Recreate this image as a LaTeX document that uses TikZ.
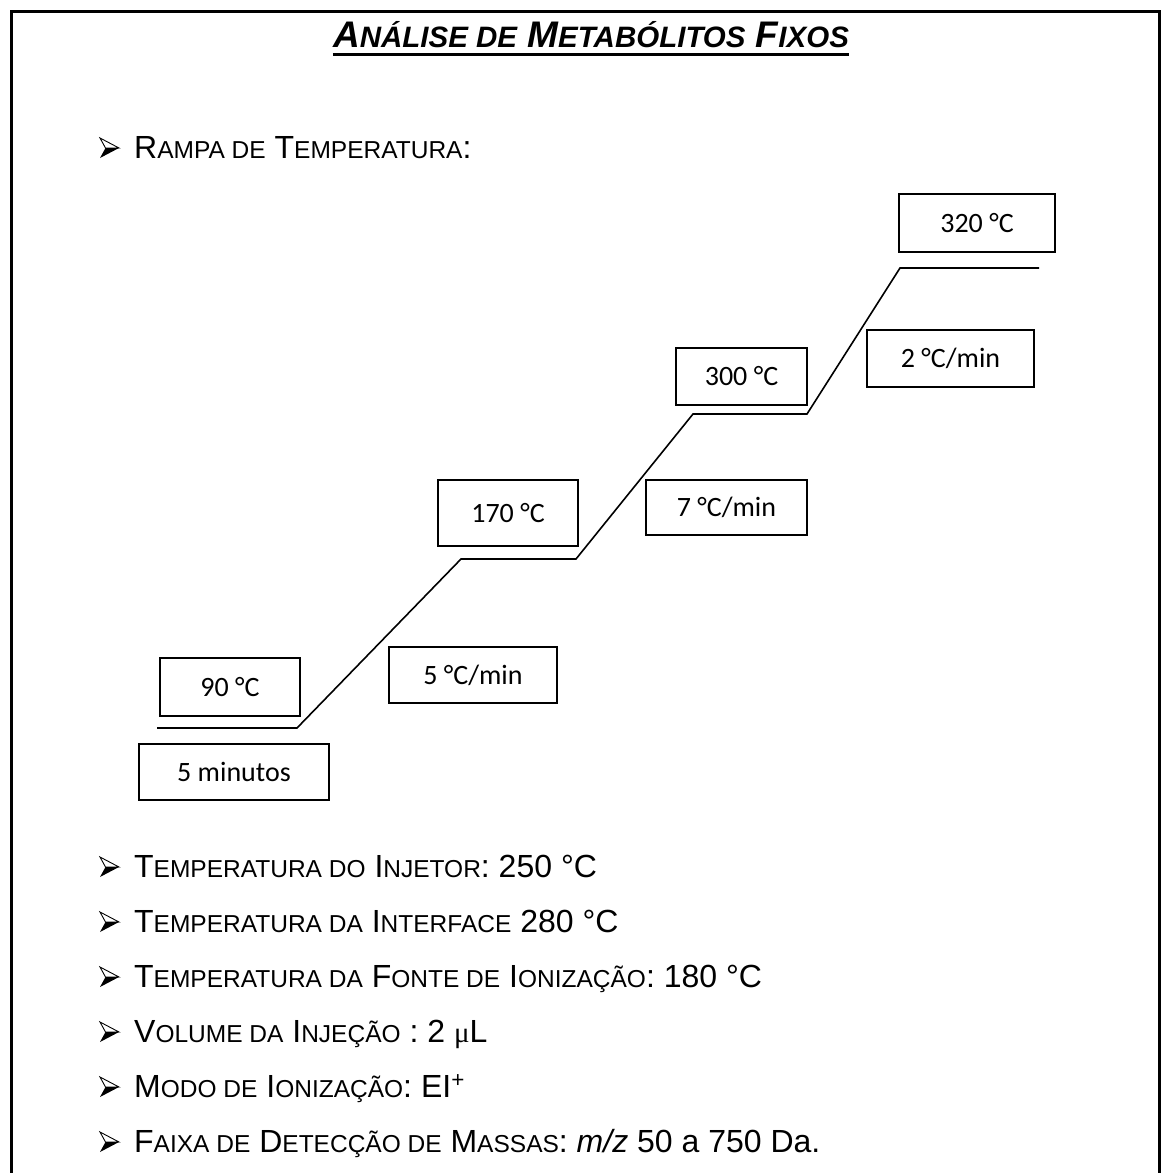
\documentclass[tikz,border=0pt]{standalone}
\usepackage{fontspec}
\setmainfont{Liberation Sans}
\newfontfamily\boxfont{Carlito}
\newfontfamily\serfont{Liberation Serif}
\newcommand\bodysz{\fontsize{32}{32}\selectfont}
\newcommand\smc[1]{{\fontsize{24.5}{24.5}\selectfont #1}}
\newcommand\tsmc[1]{{\fontsize{29.5}{29.5}\selectfont #1}}
\tikzset{
  arrowbullet/.pic={
    \filldraw[fill=white, draw=black, line width=0.9pt, line join=miter] (0,-20) -- (19,-10) -- (5.5,-10) -- cycle;
    \fill[black] (5.5,-10) -- (19,-10) -- (0,0) -- cycle;
  }
}
\begin{document}
\begin{tikzpicture}[x=1pt,y=-1pt,
  frameline/.style={line width=3pt, line join=miter},
  tempbox/.style={draw, line width=1.5pt, inner sep=0pt, font=\boxfont\fontsize{28}{28}\selectfont},
  ramp/.style={line width=1.6pt, line join=miter},
  item/.style={anchor=base west, inner sep=0pt, font=\bodysz},
]
\useasboundingbox (0,0) rectangle (1161,1173);
\fill[white] (0,0) rectangle (1161,1173);
% frame
\draw[frameline] (11,1173) -- (11,11) -- (1161,11);
\draw[line width=3pt] (1159.5,11) -- (1159.5,1173);

% title
\node[anchor=base, inner sep=0pt, font=\bfseries\itshape\fontsize{37}{37}\selectfont] (title) at (591,47)
  {A\tsmc{NÁLISE DE} M\tsmc{ETABÓLITOS} F\tsmc{IXOS}};
\draw[line width=3pt] ([yshift=-7pt]title.base west) -- ([yshift=-7pt]title.base east);

% ramp heading
\pic (b1) at (100,158) {arrowbullet};
\node[item] (rampa) at (134,158) {R\smc{AMPA DE} T\smc{EMPERATURA}:};

% temperature profile
\coordinate (p0) at (157,728);
\coordinate (p1) at (297,728);
\coordinate (p2) at (461,559);
\coordinate (p3) at (576,559);
\coordinate (p4) at (693,414);
\coordinate (p5) at (807,414);
\coordinate (p6) at (900,268);
\coordinate (p7) at (1039,268);
\draw[ramp] (p0) -- (p1) -- (p2) -- (p3) -- (p4) -- (p5) -- (p6) -- (p7);

\node[tempbox, minimum width=140pt, minimum height=58pt] (t90) at (230,687) {90 °C};
\node[tempbox, minimum width=190pt, minimum height=56pt] (tmin) at (234,772) {5 minutos};
\node[tempbox, minimum width=168pt, minimum height=56pt] (r5) at (473,675) {5 °C/min};
\node[tempbox, minimum width=140pt, minimum height=66pt] (t170) at (508,513) {170 °C};
\node[tempbox, minimum width=161pt, minimum height=55pt] (r7) at (726.5,507.5) {7 °C/min};
\node[tempbox, minimum width=131pt, minimum height=57pt] (t300) at (741.5,376.5) {300 °C};
\node[tempbox, minimum width=167pt, minimum height=57pt] (r2) at (950.5,358.5) {2 °C/min};
\node[tempbox, minimum width=156pt, minimum height=58pt] (t320) at (977,223) {320 °C};

% parameter list
\pic (b2) at (100,877) {arrowbullet};
\node[item] (inj) at (134,877) {T\smc{EMPERATURA DO} I\smc{NJETOR}: 250 °C};
\pic (b3) at (100,932) {arrowbullet};
\node[item] (intf) at (134,932) {T\smc{EMPERATURA DA} I\smc{NTERFACE} 280 °C};
\pic (b4) at (100,987) {arrowbullet};
\node[item] (fonte) at (134,987) {T\smc{EMPERATURA DA} F\smc{ONTE DE} I\smc{ONIZAÇÃO}: 180 °C};
\pic (b5) at (100,1042) {arrowbullet};
\node[item] (vol) at (134,1042) {V\smc{OLUME DA} I\smc{NJEÇÃO} : 2 {\serfont\fontsize{29}{29}\selectfont μ}L};
\pic (b6) at (100,1097) {arrowbullet};
\node[item] (modo) at (134,1097) {M\smc{ODO DE} I\smc{ONIZAÇÃO}: EI\textsuperscript{+}};
\pic (b7) at (100,1152) {arrowbullet};
\node[item] (faixa) at (134,1152) {F\smc{AIXA DE} D\smc{ETECÇÃO DE} M\smc{ASSAS}: \textit{m/z} 50 a 750 Da.};
\end{tikzpicture}
\end{document}
